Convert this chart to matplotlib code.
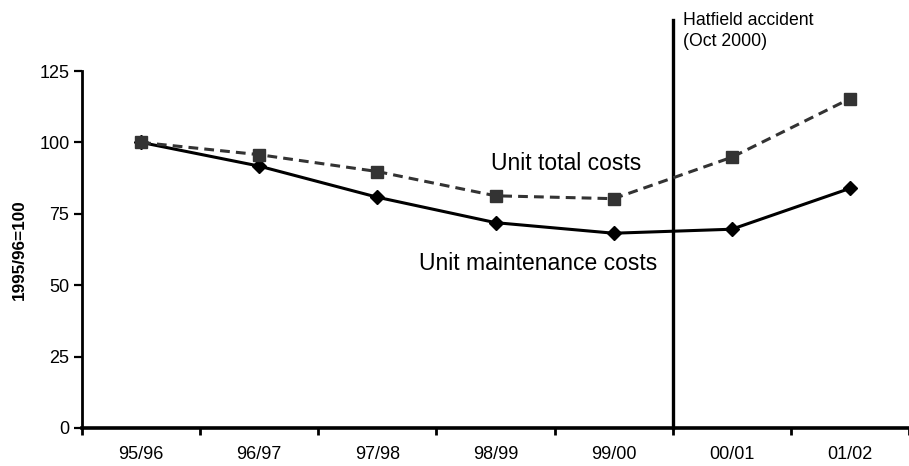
import numpy as np
import matplotlib
matplotlib.use("Agg")
import matplotlib.pyplot as plt

plt.rcParams['font.family'] = ['Liberation Sans', 'DejaVu Sans']

years = ['95/96', '96/97', '97/98', '98/99', '99/00', '00/01', '01/02']
total_costs = [100, 95.7, 89.8, 81.3, 80.3, 94.8, 115.3]
maint_costs = [100, 91.7, 80.8, 71.9, 68.2, 69.6, 83.9]
y_ticks = [0, 25, 50, 75, 100, 125]
accident_pos = 5  # boundary between 99/00 and 00/01

fig = plt.figure(figsize=(9.09, 4.66), dpi=100)
ax = fig.add_axes([82/909, 38/466, 1 - 82/909, (428 - 71)/466])

x = np.arange(len(years)) + 0.5
ax.plot(x, maint_costs, color='black', lw=2.2, ls='-',
        marker='D', ms=7.5, mfc='black', mec='black', clip_on=False, zorder=3)
ax.plot(x, total_costs, color='#333333', lw=2.2, ls=(0, (3.2, 2.0)),
        marker='s', ms=9, mfc='#333333', mec='#333333', clip_on=False, zorder=4)

# Hatfield marker line
ax.plot([accident_pos, accident_pos], [0, 142.8], color='black', lw=2.4,
        clip_on=False, zorder=2)
ax.text(accident_pos + 0.09, 145.5, 'Hatfield accident\n(Oct 2000)', fontsize=12.7,
        va='top', ha='left', linespacing=1.3)

ax.text(3.46, 92.5, 'Unit total costs', fontsize=16.5, ha='left', va='center')
ax.text(2.85, 57.5, 'Unit maintenance costs', fontsize=16.5, ha='left', va='center')

ax.set_xlim(0, len(years))
ax.set_ylim(0, 125)
ax.set_yticks(y_ticks)
ax.set_xticks(np.arange(len(years) + 1))
ax.set_xticklabels([])
ax.set_xticks(x, minor=True)
ax.set_xticklabels(years, minor=True, fontsize=13)
ax.tick_params(axis='x', which='minor', length=0, pad=13)
ax.tick_params(axis='x', which='major', length=5, width=2, direction='out')
ax.tick_params(axis='y', length=6, width=1.6, direction='out', labelsize=13, pad=3)

for s in ['top', 'right']:
    ax.spines[s].set_visible(False)
ax.spines['left'].set_linewidth(2)
ax.spines['bottom'].set_linewidth(2.6)

ax.set_ylabel('1995/96=100', fontsize=12.3, fontweight='bold', labelpad=9)

fig.savefig('out.png', dpi=100)
